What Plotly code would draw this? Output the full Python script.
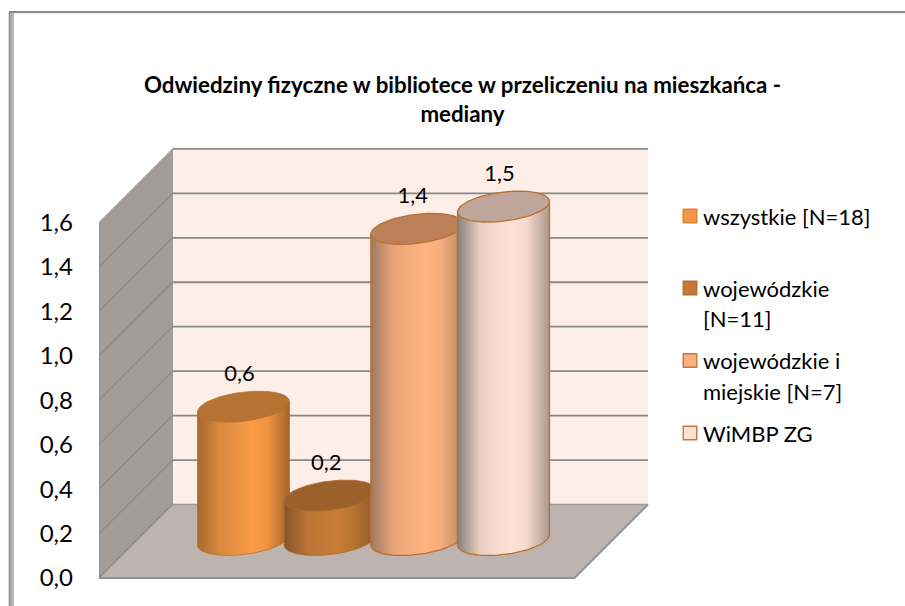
import numpy as np
import plotly.graph_objects as go

# ---- data ----
series_names = ["wszystkie [N=18]", "wojewódzkie<br>[N=11]", "wojewódzkie i<br>miejskie [N=7]", "WiMBP ZG"]
series_values = [0.6, 0.2, 1.4, 1.5]
value_labels = ["0,6", "0,2", "1,4", "1,5"]
tick_values = [0.0, 0.2, 0.4, 0.6, 0.8, 1.0, 1.2, 1.4, 1.6]
tick_labels = ["0,0", "0,2", "0,4", "0,6", "0,8", "1,0", "1,2", "1,4", "1,6"]
title_text = "Odwiedziny fizyczne w bibliotece w przeliczeniu na mieszkańca -<br>mediany"

# ---- styles ----
body_scales = [
    ["#a9682c", "#d98a3f", "#f99b47", "#f2953f", "#a3642b"],
    ["#86542a", "#bb7535", "#c97d36", "#b9732f", "#8e5a2a"],
    ["#a07a60", "#e8a478", "#ffb482", "#f7ae7c", "#bb8868"],
    ["#8a7f79", "#ead0c3", "#ffe3d6", "#f6dacc", "#ab978d"],
]
top_colors = ["#b57233", "#9b602b", "#bc8059", "#bfa69a"]
edge_colors = ["#b5712f", "#ad6a2d", "#b9702f", "#b9702f"]
edge_widths = [0.8, 0.8, 1.3, 1.3]
swatch_colors = ["#f79646", "#c77a37", "#fbb07f", "#fde0d4"]
swatch_edges = ["#d9833b", "#b5702f", "#c27a3c", "#c27a3c"]

# ---- geometry of the oblique projection (pixels on a 905x606 page) ----
W, H = 905, 606
ZERO_PX = 578.0
PX_PER_UNIT = 222.25
LEFT = 99.0
FLOOR_W = 475.5
DEPTH = 73.5
BAR_C0, BAR_STEP = 243.5, 86.67
BAR_RX, BAR_RD = 43.3, 15.5
BAR_BASE_PX = 540.0
YMAX = 1.6


def yv(px):
    return (ZERO_PX - px) / PX_PER_UNIT


D_VAL = DEPTH / PX_PER_UNIT
fig = go.Figure()


def poly(xs, ys, color, **kw):
    fig.add_trace(go.Scatter(x=xs, y=ys, mode="lines", fill="toself", fillcolor=color,
                             line=dict(width=0), hoverinfo="skip", showlegend=False, **kw))


def lines(xs, ys, color, width):
    fig.add_trace(go.Scatter(x=xs, y=ys, mode="lines", line=dict(color=color, width=width),
                             hoverinfo="skip", showlegend=False))


# walls and floor
poly([LEFT + DEPTH, LEFT + DEPTH + FLOOR_W, LEFT + DEPTH + FLOOR_W, LEFT + DEPTH],
     [D_VAL, D_VAL, D_VAL + YMAX, D_VAL + YMAX], "#fdefe8")
poly([LEFT, LEFT + DEPTH, LEFT + DEPTH, LEFT], [0, D_VAL, D_VAL + YMAX, YMAX], "#a39c97")
poly([LEFT, LEFT + DEPTH, LEFT + DEPTH + FLOOR_W, LEFT + FLOOR_W], [0, D_VAL, D_VAL, 0], "#bdb4b0")

# gridlines
gx, gy, sx, sy = [], [], [], []
for t in tick_values[1:]:
    gx += [LEFT + DEPTH, LEFT + DEPTH + FLOOR_W, None]
    gy += [t + D_VAL, t + D_VAL, None]
for t in tick_values[:-1]:
    sx += [LEFT, LEFT + DEPTH, None]
    sy += [t, t + D_VAL, None]
lines(gx, gy, "#888888", 1.8)
lines(sx, sy, "#868a8a", 1.2)
lines([LEFT + DEPTH, LEFT + DEPTH], [D_VAL, D_VAL + YMAX], "#8d9090", 0.8)
lines([LEFT, LEFT + DEPTH], [YMAX, YMAX + D_VAL], "#8d9090", 0.8)
lines([LEFT + DEPTH, LEFT + DEPTH + FLOOR_W], [D_VAL, D_VAL], "#9a9a9a", 1.4)
lines([LEFT, LEFT, LEFT + FLOOR_W, LEFT + DEPTH + FLOOR_W], [YMAX, 0, 0, D_VAL], "#8f9292", 2.0)

# cylinders
t0 = np.arctan2(BAR_RD, BAR_RX)
front = np.linspace(t0, t0 - np.pi, 60)
full = np.linspace(0, 2 * np.pi, 120)
base_v = yv(BAR_BASE_PX)
rd_v = BAR_RD / PX_PER_UNIT
for i, v in enumerate(series_values):
    cx = BAR_C0 + i * BAR_STEP
    ex = cx + BAR_RX * np.cos(front) + BAR_RD * np.sin(front)
    ey = base_v + rd_v * np.sin(front)
    bx = list(ex[::-1]) + list(ex[:1]) + [ex[-1], ex[-1]]
    by = list(ey[::-1]) + [ey[0] + v] + [ey[-1] + v, ey[-1]]
    stops = [0, 0.25, 0.58, 0.75, 1]
    fig.add_trace(go.Scatter(
        x=bx, y=by, mode="lines", fill="toself", name=series_names[i].replace("<br>", " "),
        line=dict(color=edge_colors[i], width=edge_widths[i]),
        fillgradient=dict(type="horizontal", colorscale=list(zip(stops, body_scales[i]))),
        hoverinfo="skip", showlegend=False))
    tx = cx + BAR_RX * np.cos(full) + BAR_RD * np.sin(full)
    ty = base_v + v + rd_v * np.sin(full)
    fig.add_trace(go.Scatter(x=tx, y=ty, mode="lines", fill="toself", fillcolor=top_colors[i],
                             line=dict(color=edge_colors[i], width=edge_widths[i]),
                             hoverinfo="skip", showlegend=False))

# data labels
LABEL_DX, LABEL_DY = -4.0, 31.0
fig.add_trace(go.Scatter(
    x=[BAR_C0 + i * BAR_STEP + LABEL_DX for i in range(4)],
    y=[base_v + v + LABEL_DY / PX_PER_UNIT for v in series_values],
    mode="text", text=value_labels, textposition="middle center",
    textfont=dict(family="Lato", size=22, color="#000000"), hoverinfo="skip", showlegend=False))

# legend
LEG_X, LEG_TEXT_X = 690.0, 701.0
LEG_ROWS = [216.0, 288.0, 360.5, 433.0]
for i in range(4):
    fig.add_trace(go.Scatter(
        x=[LEG_X], y=[yv(LEG_ROWS[i])], mode="markers", name=series_names[i].replace("<br>", " "),
        marker=dict(symbol="square", size=13.5, color=swatch_colors[i],
                    line=dict(color=swatch_edges[i], width=1.4)),
        hoverinfo="name", showlegend=False))
annotations = []
for i in range(4):
    for j, part in enumerate(series_names[i].split("<br>")):
        annotations.append(dict(x=LEG_TEXT_X, y=yv(LEG_ROWS[i] + j * 30.5), xref="x", yref="y",
                                text=part, showarrow=False, xanchor="left", yanchor="middle",
                                font=dict(family="Lato", size=22, color="#000000")))

# outer frame
shapes = [
    dict(type="line", xref="paper", yref="paper", x0=(12 - LEFT) / (W - LEFT), x1=(12 - LEFT) / (W - LEFT),
         y0=0, y1=(H - 12) / H, line=dict(color="#b4b4b4", width=4)),
    dict(type="line", xref="paper", yref="paper", x0=(9.5 - LEFT) / (W - LEFT), x1=(9.5 - LEFT) / (W - LEFT),
         y0=0, y1=(H - 12) / H, line=dict(color="#888888", width=1.5)),
    dict(type="line", xref="paper", yref="paper", x0=(9 - LEFT) / (W - LEFT), x1=1,
         y0=(H - 12) / H, y1=(H - 12) / H, line=dict(color="#888888", width=2)),
    dict(type="line", xref="paper", yref="paper", x0=(14 - LEFT) / (W - LEFT), x1=1,
         y0=(H - 14) / H, y1=(H - 14) / H, line=dict(color="#eeeeee", width=1.5)),
]

fig.update_layout(
    width=W, height=H, margin=dict(l=LEFT, r=0, t=0, b=0, pad=0, autoexpand=False),
    paper_bgcolor="#ffffff", plot_bgcolor="rgba(0,0,0,0)",
    showlegend=False, shapes=shapes, annotations=annotations,
    title=dict(text=title_text, x=462.5 / W, xanchor="center", y=1 - 93 / H, yanchor="top",
               font=dict(family="Lato", size=22.3, color="#000000", weight="bold")),
    xaxis=dict(range=[LEFT, W], visible=False, fixedrange=True),
    yaxis=dict(range=[yv(H), yv(0)], tickvals=tick_values, ticktext=tick_labels, showgrid=False,
               zeroline=False, showline=False, ticks="", ticklabelstandoff=25, fixedrange=True,
               tickfont=dict(family="Lato", size=24, color="#000000")),
)
fig.write_html("out.html", config=dict(displayModeBar=False),
               post_script="document.body.style.margin='0';")
